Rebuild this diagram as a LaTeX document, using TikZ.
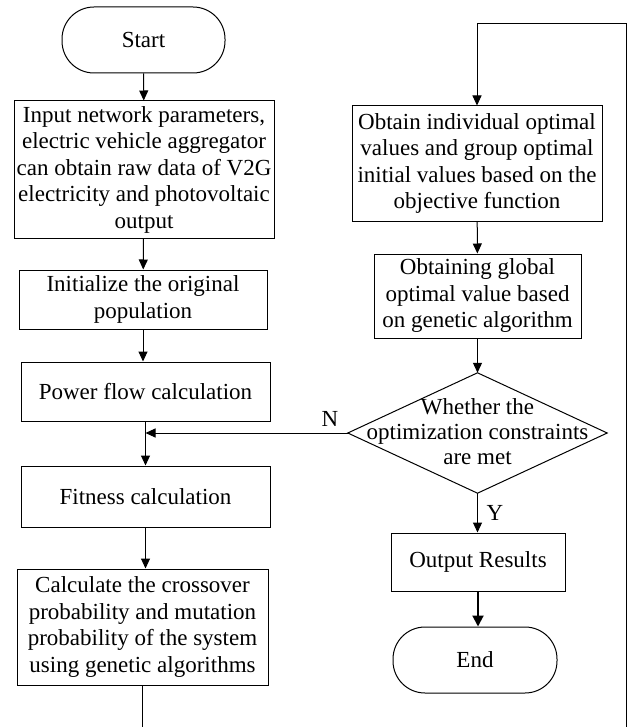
\documentclass[tikz,border=0pt]{standalone}
\usepackage{fontspec}
\setmainfont{Liberation Serif}
\usetikzlibrary{arrows.meta}
\begin{document}
\begin{tikzpicture}[x=1pt,y=-1pt,
  every node/.style={font=\fontsize{23}{26.5}\selectfont, inner sep=0pt},
  box/.style={draw, line width=1pt, rectangle, align=center},
  term/.style={draw, line width=1pt, rectangle, rounded corners=32pt, align=center},
  lbl/.style={align=center},
  conn/.style={line width=1pt, -{Triangle[length=10pt,width=9pt]}},
  plain/.style={line width=1pt}]
\useasboundingbox (0,0) rectangle (636,727);
% left column
\node[term, minimum width=163pt, minimum height=66pt] (start) at (143.5,40) {Start};
\node[box, minimum width=260pt, minimum height=137pt] (input) at (144,169.5) {Input network parameters,\\electric vehicle aggregator\\can obtain raw data of V2G\\electricity and photovoltaic\\output};
\node[box, minimum width=248pt, minimum height=59pt] (init) at (143,299.5) {Initialize the original\\population};
\node[box, minimum width=249pt, minimum height=59pt] (power) at (145.5,391.5) {Power flow calculation};
\node[box, minimum width=249pt, minimum height=61pt] (fit) at (145.5,496.5) {Fitness calculation};
\node[box, minimum width=251pt, minimum height=116pt] (calc) at (142.5,627) {Calculate the crossover\\probability and mutation\\probability of the system\\using genetic algorithms};
% right column
\node[box, minimum width=250pt, minimum height=115pt] (obtain) at (477,163.5) {Obtain individual optimal\\values and group optimal\\initial values based on the\\objective function};
\node[box, minimum width=207pt, minimum height=84pt] (global) at (477.5,296) {Obtaining global\\optimal value based\\on genetic algorithm};
\node[minimum width=259pt, minimum height=120pt] (dec) at (477.5,433) {};
\draw[plain] (dec.north) -- (dec.east) -- (dec.south) -- (dec.west) -- cycle;
\node[lbl, font=\fontsize{23}{25}\selectfont] (dectext) at (477.5,432) {Whether the\\optimization constraints\\are met};
\node[box, minimum width=174pt, minimum height=58pt] (out) at (478,562) {Output Results};
\node[term, minimum width=164pt, minimum height=66pt] (endn) at (475,660) {End};
% labels
\node (nlab) at (330,419) {N};
\node (ylab) at (495,513) {Y};
% coordinates
\coordinate (join) at (power.south |- dec.west);
\coordinate (bl) at (calc.south |- 0,727);
\coordinate (br) at (626,727);
\coordinate (tr) at (626,24);
\coordinate (tl) at (obtain.north |- 0,24);
% connectors
\draw[conn] (start) -- (input);
\draw[conn] (input) -- (init);
\draw[conn] (init.south) -- (init.south |- power.north);
\draw[conn] (power.south) -- (power.south |- fit.north);
\draw[conn] (dec.west) -- (join);
\draw[conn] (fit.south) -- (fit.south |- calc.north);
\draw[plain] (calc.south) -- (bl);
\draw[conn] (br) -- (tr) -- (tl) -- (obtain.north);
\draw[conn] (obtain) -- (global);
\draw[conn] (global.south) -- (global.south |- dec.north);
\draw[conn] (dec.south) -- (dec.south |- out.north);
\draw[line width=2pt, -{Triangle[length=11pt,width=11pt]}] (out.south) -- (out.south |- endn.north);
\end{tikzpicture}
\end{document}
